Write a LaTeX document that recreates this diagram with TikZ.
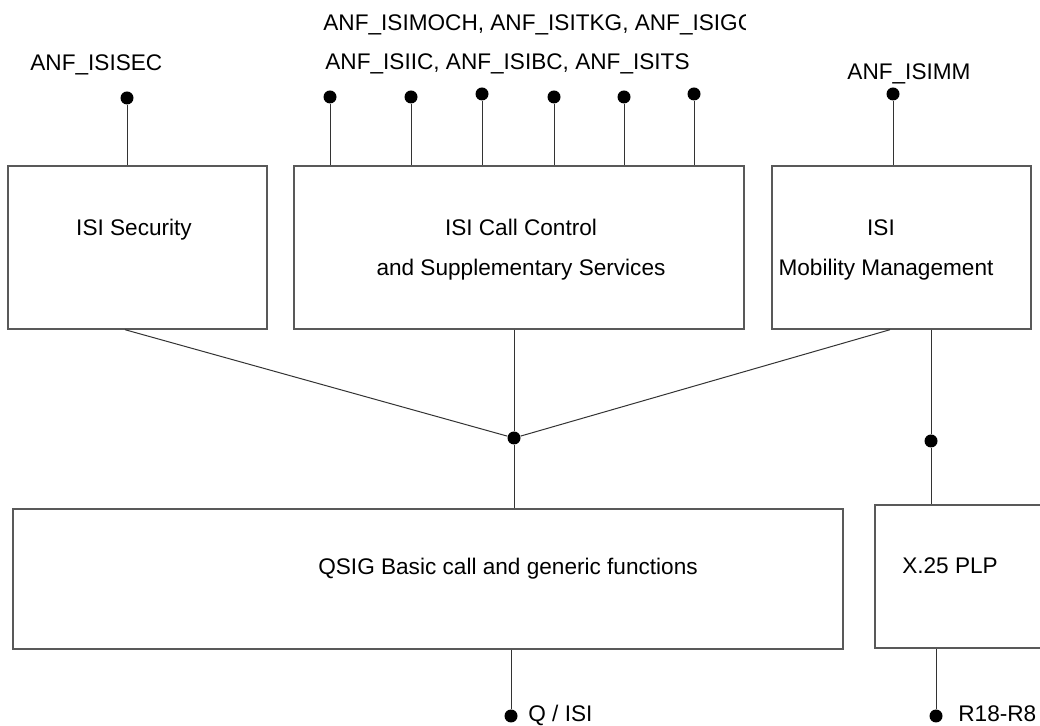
\documentclass[tikz,border=0pt]{standalone}
\usepackage{fontspec}
\setmainfont{Liberation Sans}
\usetikzlibrary{positioning}

\tikzset{
  blk/.style={draw=black!65, line width=0.7pt, inner sep=0pt},
  wire/.style={draw=black!80, line width=0.5pt},
  dot/.style={circle, fill=black, inner sep=0pt, minimum size=6.5pt},
  lbl/.style={inner sep=0pt, font=\fontsize{11.3}{13.6}\selectfont}
}

\begin{document}
\begin{tikzpicture}[x=0.5pt, y=-0.5pt]
  \useasboundingbox (0,0) rectangle (1040,726);
  \clip (0,0) rectangle (1040,726);
  % Blocks
  \node[blk, minimum width=129.5pt, minimum height=81.5pt] (sec) at (137.5,247.5) {};
  \node[blk, minimum width=225pt, minimum height=81.5pt] (ccs) at (519,247.5) {};
  \node[blk, minimum width=129.5pt, minimum height=81.5pt] (mm) at (901.5,247.5) {};
  \node[blk, minimum width=415pt, minimum height=70pt] (qsig) at (428,579) {};
  \node[blk, minimum width=112.5pt, minimum height=71.5pt] (plp) at (987.5,576.5) {};
  % Block texts
  \node[lbl, anchor=base] (sectxt) at (134,236) {ISI Security};
  \node[lbl, anchor=base] (ccstxt) at (521,236) {ISI Call Control};
  \node[lbl, anchor=base] (ccstxtb) at (521,276) {and Supplementary Services};
  \node[lbl, anchor=base] (mmtxt) at (881,236) {ISI};
  \node[lbl, anchor=base] (mmtxtb) at (886,276) {Mobility Management};
  \node[lbl, anchor=base] (qsigtxt) at (508,575) {QSIG Basic call and generic functions};
  \node[lbl, anchor=base] (plptxt) at (950,574) {X.25 PLP};
  % Access points on top
  \node[dot] (secd) at (127,98) {};
  \draw[wire] (secd) -- (secd |- sec.north);
  \foreach \x/\y [count=\i] in {330/97, 411/97, 482/94, 554/97, 624/97, 694/94} {
    \node[dot] (c\i) at (\x,\y) {};
    \draw[wire] (c\i) -- (c\i |- ccs.north);
  }
  \node[dot] (mmd) at (893,94) {};
  \draw[wire] (mmd) -- (mmd |- mm.north);
  \node[lbl, anchor=base west] (seclbl) at (30,71) {ANF\_ISISEC};
  \begin{scope}
    \clip (0,0) rectangle (745,50);
    \node[lbl, anchor=base west] (ccslbl) at (323,31) {ANF\_ISIMOCH, ANF\_ISITKG, ANF\_ISIGC};
  \end{scope}
  \node[lbl, anchor=base west] (ccslblb) at (325,70) {ANF\_ISIIC, ANF\_ISIBC, ANF\_ISITS};
  \node[lbl, anchor=base] (mmlbl) at (909,80) {ANF\_ISIMM};
  % Junction to QSIG
  \node[dot] (jn) at (514,438) {};
  \draw[wire] ([xshift=-6.25pt]sec.south) -- (jn);
  \draw[wire] ([xshift=-2.5pt]ccs.south) -- (jn);
  \draw[wire] ([xshift=-5.75pt]mm.south) -- (jn);
  \draw[wire] (jn) -- (jn |- qsig.north);
  % Mobility to X.25
  \node[dot] (mmd2) at (931,441) {};
  \draw[wire] ([xshift=14.75pt]mm.south) -- (mmd2);
  \draw[wire] (mmd2) -- (mmd2 |- plp.north);
  % Bottom access points
  \node[dot] (qd) at (511,716) {};
  \draw[wire] (qd |- qsig.south) -- (qd);
  \node[lbl, anchor=base west] (qlbl) at (528,722) {Q / ISI};
  \node[dot] (rd) at (936,716) {};
  \draw[wire] (rd |- plp.south) -- (rd);
  \node[lbl, anchor=base west] (rlbl) at (958,722) {R18-R8};
\end{tikzpicture}
\end{document}
